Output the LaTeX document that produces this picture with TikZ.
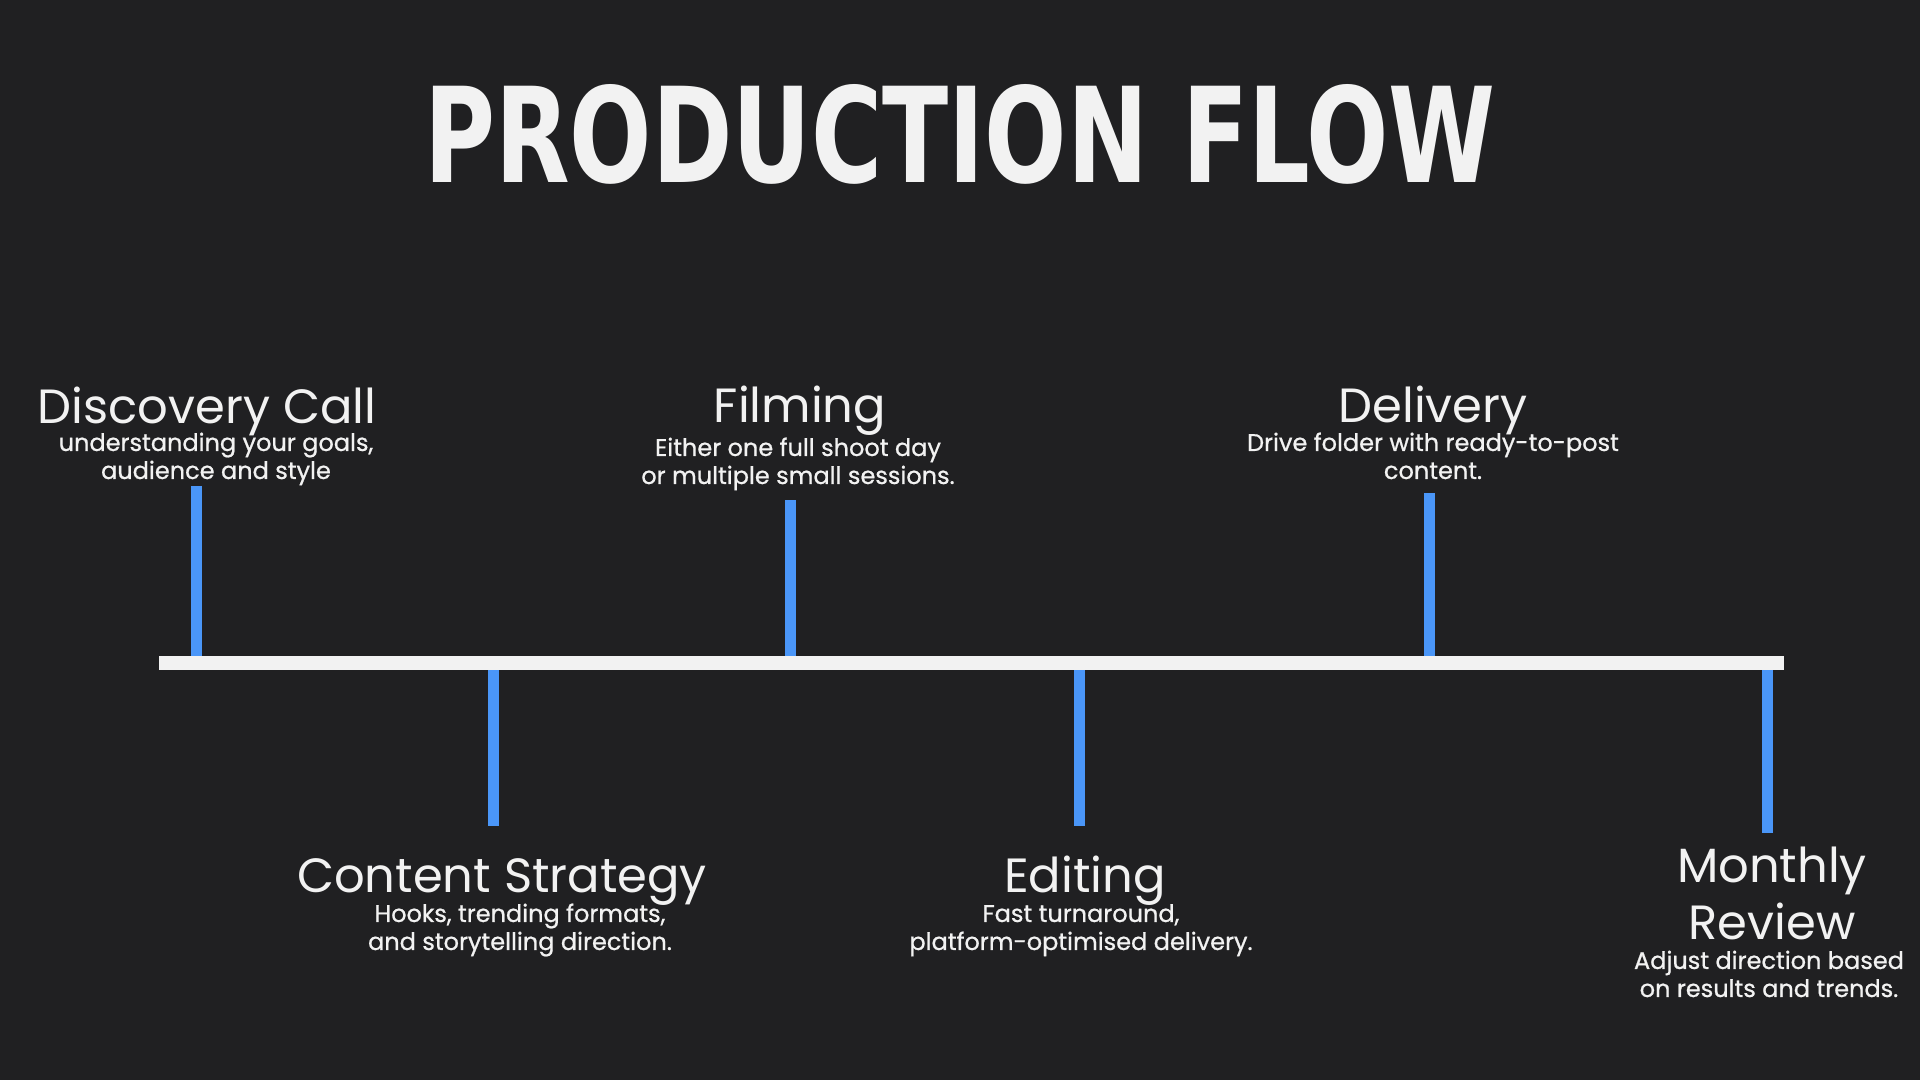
\documentclass[tikz,border=0pt]{standalone}
\usepackage{fontspec}
\setmainfont{Poppins}
\newfontfamily\blurbfam{Poppins}[FakeBold=0.8]
\newfontfamily\titlefont{DejaVu Sans}
\usepackage{tikz}
\definecolor{bgcol}{HTML}{202022}
\definecolor{linecol}{HTML}{F2F2F2}
\definecolor{tickcol}{HTML}{4A96F8}
\definecolor{txtcol}{HTML}{F2F2F2}
\newcommand{\headfont}{\fontsize{13.66pt}{16.22pt}\selectfont}
\newcommand{\blurbfont}{\blurbfam\fontsize{6.83pt}{7.97pt}\selectfont}

\begin{document}
\begin{tikzpicture}[x=0.01cm,y=-0.01cm,
    axis/.style={line width=3.98pt,draw=linecol},
    tickline/.style={line width=3.13pt,draw=tickcol},
    heading/.style={anchor=base,text=txtcol,font=\headfont,inner sep=0pt,align=center},
    blurb/.style={anchor=base,text=txtcol,font=\blurbfont,inner sep=0pt,align=center}]
    \fill[bgcol] (0,0) rectangle (1920,1080);
    \node[inner sep=0pt,text=txtcol] (title) at (960,134) {\resizebox{10.71cm}{0.98cm}{\titlefont\bfseries PRODUCTION FLOW}};
    % stages above the line (base = last text line)
    \node[heading] (disc-head) at (207,424) {Discovery Call};
    \node[blurb] (disc-text) at (216,479) {understanding your goals,\\audience and style};
    \node[heading] (film-head) at (800,423) {Filming};
    \node[blurb] (film-text) at (798,484) {Either one full shoot day\\or multiple small sessions.};
    \node[heading] (deli-head) at (1433,423) {Delivery};
    \node[blurb] (deli-text) at (1433,479) {Drive folder with ready-to-post\\content.};
    % stages below the line
    \node[heading] (cont-head) at (502,893) {Content Strategy};
    \node[blurb] (cont-text) at (520,950) {Hooks, trending formats,\\and storytelling direction.};
    \node[heading] (edit-head) at (1085,893) {Editing};
    \node[blurb] (edit-text) at (1081,950) {Fast turnaround,\\platform-optimised delivery.};
    \node[heading] (mont-head) at (1772,940) {Monthly\\Review};
    \node[blurb] (mont-text) at (1769,997) {Adjust direction based\\on results and trends.};
    % ticks
    \coordinate (disc-foot) at (196.5,663); \coordinate (disc-top) at (196.5,486);
    \coordinate (film-foot) at (790.5,663); \coordinate (film-top) at (790.5,500);
    \coordinate (deli-foot) at (1429.5,663); \coordinate (deli-top) at (1429.5,493);
    \coordinate (cont-foot) at (493.5,663); \coordinate (cont-end) at (493.5,826);
    \coordinate (edit-foot) at (1079.5,663); \coordinate (edit-end) at (1079.5,826);
    \coordinate (mont-foot) at (1767.5,663); \coordinate (mont-end) at (1767.5,833);
    \draw[tickline] (disc-foot) -- (disc-top);
    \draw[tickline] (film-foot) -- (film-top);
    \draw[tickline] (deli-foot) -- (deli-top);
    \draw[tickline] (cont-foot) -- (cont-end);
    \draw[tickline] (edit-foot) -- (edit-end);
    \draw[tickline] (mont-foot) -- (mont-end);
    % timeline
    \coordinate (line-start) at (159,663);
    \coordinate (line-end) at (1784,663);
    \draw[axis] (line-start) -- (line-end);
\end{tikzpicture}
\end{document}
